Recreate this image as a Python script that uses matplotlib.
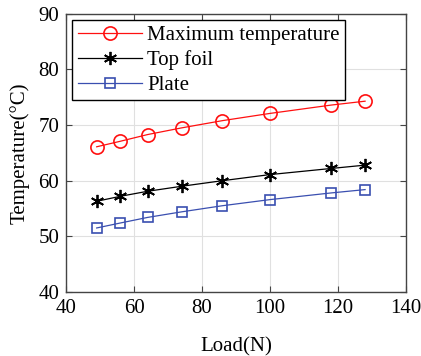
import matplotlib
matplotlib.use("Agg")
import matplotlib.pyplot as plt

load = [49, 56, 64, 74, 86, 100, 118, 128]
max_temp = [66.1, 67.1, 68.3, 69.5, 70.8, 72.1, 73.6, 74.3]
top_foil = [56.3, 57.2, 58.1, 59.0, 60.0, 61.1, 62.2, 62.8]
plate = [51.5, 52.4, 53.4, 54.4, 55.5, 56.6, 57.8, 58.4]
xticks = [40, 60, 80, 100, 120, 140]
yticks = [40, 50, 60, 70, 80, 90]

plt.rcParams['font.family'] = ['Liberation Serif']

fig = plt.figure(figsize=(4.21, 3.56), dpi=100)
ax = fig.add_axes([0.157, 0.180, 0.807, 0.781])

ax.plot(load, max_temp, color='#ff1010', lw=0.9, marker='o', ms=9.5, mfc='none', mec='#ff1010', mew=1.2, label='Maximum temperature')
ax.plot(load, top_foil, color='black', lw=0.9, marker=(6, 2, 0), ms=9.5, mew=1.3, label='Top foil')
ax.plot(load, plate, color='#3a4fb0', lw=0.9, marker='s', ms=7.5, mfc='none', mec='#3a4fb0', mew=1.2, label='Plate')

ax.set_xlim(40, 140)
ax.set_ylim(40, 90)
ax.set_xticks(xticks)
ax.set_yticks(yticks)
ax.grid(True, color='#e0e0e0', lw=0.8)
ax.set_axisbelow(True)
ax.tick_params(direction='in', top=True, right=True, labelsize=15, length=4, color='#444444', pad=5)
for s in ax.spines.values():
    s.set_color('#444444')
    s.set_linewidth(1.0)

ax.set_xlabel('Load(N)', fontsize=15, labelpad=14)
ax.set_ylabel('Temperature(°C)', fontsize=15, labelpad=6)

leg = ax.legend(loc='upper left', fontsize=15, frameon=True, fancybox=False, framealpha=1,
                edgecolor='black', borderpad=0.25, labelspacing=0.25, handlelength=3.1,
                handletextpad=0.25, borderaxespad=0.3)
leg.get_frame().set_linewidth(1.0)

fig.savefig('out.png', dpi=100)
